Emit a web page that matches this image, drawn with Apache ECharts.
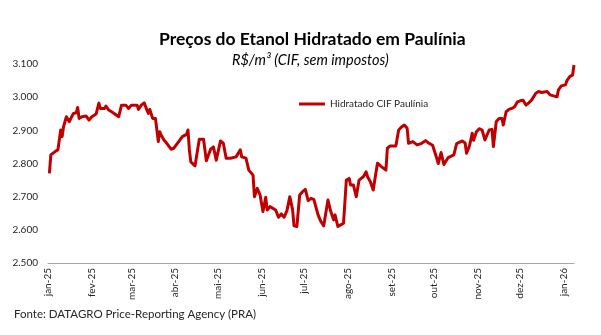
<!DOCTYPE html>
<html>
<head>
<meta charset="utf-8">
<script src="https://cdn.jsdelivr.net/npm/echarts@6/dist/echarts.min.js"></script>
<style>
  html, body { margin: 0; padding: 0; background: #fff; }
  #chart { width: 601px; height: 335px; }
</style>
</head>
<body>
<div id="chart"></div>
<script>
// Hydrous ethanol price assessments, Paulínia (R$/m³, CIF, ex-tax)
const dates = [
  '2025-01-02','2025-01-03','2025-01-06','2025-01-08','2025-01-10','2025-01-11','2025-01-12','2025-01-14',
  '2025-01-16','2025-01-18','2025-01-19','2025-01-21','2025-01-22','2025-01-23','2025-01-25','2025-01-28',
  '2025-01-30','2025-02-01','2025-02-04','2025-02-06','2025-02-07','2025-02-10','2025-02-11','2025-02-13',
  '2025-02-16','2025-02-17','2025-02-20','2025-02-22','2025-02-25','2025-02-27','2025-03-01','2025-03-05',
  '2025-03-06','2025-03-08','2025-03-10','2025-03-12','2025-03-13','2025-03-14','2025-03-16','2025-03-18',
  '2025-03-20','2025-03-21','2025-03-22','2025-03-24','2025-03-26','2025-03-29','2025-03-31','2025-04-02',
  '2025-04-06','2025-04-09','2025-04-10','2025-04-11','2025-04-12','2025-04-15','2025-04-18','2025-04-21',
  '2025-04-23','2025-04-26','2025-04-28','2025-04-30','2025-05-03','2025-05-05','2025-05-07','2025-05-10',
  '2025-05-14','2025-05-17','2025-05-18','2025-05-21','2025-05-23','2025-05-26','2025-05-27','2025-05-29',
  '2025-05-31','2025-06-02','2025-06-04','2025-06-05','2025-06-07','2025-06-08','2025-06-11','2025-06-13',
  '2025-06-15','2025-06-17','2025-06-19','2025-06-21','2025-06-23','2025-06-24','2025-06-26','2025-06-28',
  '2025-06-30','2025-07-02','2025-07-04','2025-07-06','2025-07-08','2025-07-11','2025-07-13','2025-07-15',
  '2025-07-18','2025-07-20','2025-07-22','2025-07-23','2025-07-25','2025-07-27','2025-07-29','2025-07-31',
  '2025-08-02','2025-08-03','2025-08-05','2025-08-07','2025-08-09','2025-08-10','2025-08-12','2025-08-14',
  '2025-08-15','2025-08-17','2025-08-19','2025-08-22','2025-08-25','2025-08-28','2025-08-29','2025-08-31',
  '2025-09-04','2025-09-06','2025-09-08','2025-09-10','2025-09-12','2025-09-13','2025-09-16','2025-09-19',
  '2025-09-22','2025-09-25','2025-09-27','2025-09-30','2025-10-03','2025-10-04','2025-10-06','2025-10-08',
  '2025-10-11','2025-10-15','2025-10-17','2025-10-21','2025-10-23','2025-10-24','2025-10-26','2025-10-28',
  '2025-10-29','2025-10-31','2025-11-02','2025-11-04','2025-11-06','2025-11-07','2025-11-09','2025-11-11',
  '2025-11-12','2025-11-14','2025-11-16','2025-11-18','2025-11-19','2025-11-21','2025-11-23','2025-11-25',
  '2025-11-27','2025-11-29','2025-12-01','2025-12-03','2025-12-05','2025-12-07','2025-12-09','2025-12-12',
  '2025-12-14','2025-12-16','2025-12-20','2025-12-22','2025-12-23','2025-12-27','2025-12-28','2025-12-30',
  '2026-01-02','2026-01-03','2026-01-05','2026-01-07','2026-01-08'
];
const prices = [
  2770,2826,2836,2841,2901,2881,2911,2941,
  2926,2943,2951,2953,2969,2936,2941,2943,
  2931,2941,2949,2982,2966,2966,2973,2961,
  2953,2959,2941,2976,2976,2966,2976,2976,
  2963,2976,2983,2961,2951,2963,2936,2936,
  2866,2896,2886,2871,2861,2843,2846,2858,
  2881,2888,2901,2841,2805,2793,2873,2873,
  2808,2843,2850,2810,2868,2861,2816,2816,
  2820,2841,2820,2816,2780,2765,2700,2725,
  2705,2655,2698,2660,2670,2665,2660,2638,
  2648,2638,2658,2700,2660,2612,2610,2705,
  2715,2722,2688,2695,2692,2645,2625,2612,
  2690,2655,2630,2645,2610,2615,2620,2750,
  2755,2735,2735,2700,2750,2750,2760,2775,
  2760,2745,2720,2801,2790,2780,2846,2853,
  2853,2901,2910,2916,2906,2861,2866,2856,
  2860,2869,2862,2855,2815,2800,2833,2797,
  2818,2826,2860,2868,2862,2831,2852,2891,
  2870,2896,2905,2901,2871,2869,2901,2903,
  2851,2926,2936,2936,2916,2956,2963,2966,
  2971,2986,2989,2991,2976,2983,2991,3012,
  3017,3014,3017,3007,3001,3001,3022,3034,
  3037,3050,3062,3067,3097
];
const seriesName = 'Hidratado CIF Paulínia';
const monthNames = ['jan','fev','mar','abr','mai','jun','jul','ago','set','out','nov','dez'];
const monthTicks = [
  '2025-01-01','2025-02-01','2025-03-01','2025-04-01','2025-05-01','2025-06-01','2025-07-01',
  '2025-08-01','2025-09-01','2025-10-01','2025-11-01','2025-12-01','2026-01-01'
];

const ts = s => { const p = s.split('-'); return Date.UTC(+p[0], +p[1] - 1, +p[2]); };
const seriesData = dates.map((d, i) => [ts(d), prices[i]]);

const chart = echarts.init(document.getElementById('chart'), null, { renderer: 'canvas' });
chart.setOption({
  animation: false,
  backgroundColor: '#ffffff',
  textStyle: { fontFamily: 'Lato, "Open Sans", sans-serif' },
  title: [
    {
      text: 'Preços do Etanol Hidratado em Paulínia',
      left: 154, top: 25,
      textStyle: { fontFamily: 'Lato', fontWeight: 'bold', fontSize: 17.5, color: '#000' }
    },
    {
      text: 'R$/m³ (CIF, sem impostos)',
      left: 227, top: 48,
      textStyle: { fontFamily: 'Lato', fontStyle: 'italic', fontWeight: 'normal', fontSize: 14.5, color: '#000' }
    },
    {
      text: 'Fonte: DATAGRO Price-Reporting Agency (PRA)',
      left: 9, top: 303,
      textStyle: { fontFamily: 'Lato', fontWeight: 'normal', fontSize: 11.5, color: '#262626' }
    }
  ],
  legend: {
    data: [seriesName],
    left: 294, top: 94,
    itemWidth: 26, itemHeight: 3, itemGap: 5,
    icon: 'rect',
    textStyle: { fontFamily: 'Lato', fontSize: 10, color: '#262626' }
  },
  grid: { left: 48, right: 27, top: 64, bottom: 72, containLabel: false },
  xAxis: {
    // dates as UTC timestamps on a linear axis, labelled at each month start
    type: 'value',
    min: ts('2025-01-01'),
    max: ts('2026-01-08'),
    axisLine: { show: true, lineStyle: { color: '#a6a6a6', width: 1 } },
    axisTick: { show: false },
    splitLine: { show: false },
    axisLabel: {
      rotate: 90,
      margin: 5,
      fontSize: 10,
      fontFamily: 'Lato',
      color: '#262626',
      customValues: monthTicks.map(ts),
      formatter: v => {
        const d = new Date(v);
        return monthNames[d.getUTCMonth()] + '-' + String(d.getUTCFullYear()).slice(2);
      }
    }
  },
  yAxis: {
    type: 'value',
    min: 2500, max: 3100, interval: 100,
    axisLine: { show: false },
    axisTick: { show: false },
    splitLine: { show: false },
    axisLabel: {
      margin: 10,
      fontSize: 10,
      fontFamily: 'Lato',
      color: '#262626',
      formatter: v => (v / 1000).toFixed(3)
    }
  },
  series: [{
    name: seriesName,
    type: 'line',
    data: seriesData,
    showSymbol: false,
    symbol: 'none',
    lineStyle: { color: '#c00000', width: 3, join: 'round' },
    itemStyle: { color: '#c00000' }
  }]
});
</script>
</body>
</html>
